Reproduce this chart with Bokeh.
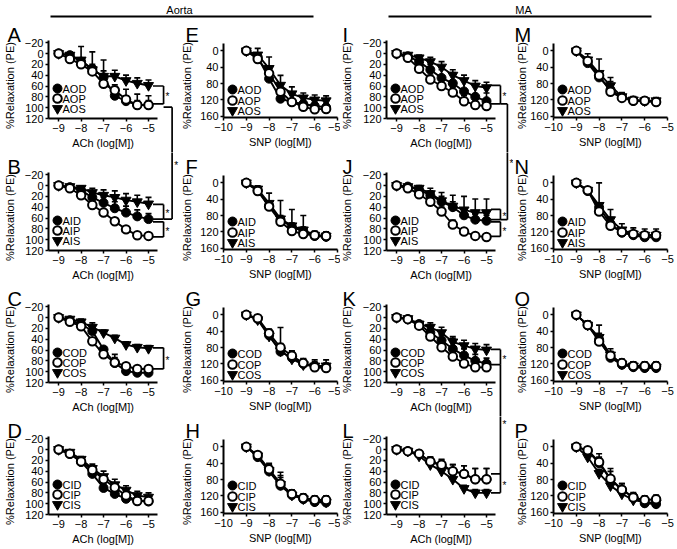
import math
from bokeh.plotting import figure
from bokeh.layouts import column, row
from bokeh.models import Range1d, FixedTicker
from bokeh.core.properties import value
from bokeh.embed import file_html
from bokeh.resources import INLINE

FONT = "Liberation Sans"

# ---------------- data ----------------
ACH_LOG_M = [-9, -8.5, -8, -7.5, -7, -6.5, -6, -5.5, -5]
SNP_LOG_M = [-9, -8.5, -8, -7.5, -7, -6.5, -6, -5.5]
ACH_X_TICKS = [-9, -8, -7, -6, -5]
SNP_X_TICKS = [-10, -9, -8, -7, -6, -5]
ACH_Y_TICKS = [-20, 0, 20, 40, 60, 80, 100, 120]
SNP_Y_TICKS = [0, 40, 80, 120, 160]
ACH_LABEL = "ACh (log[M])"
SNP_LABEL = "SNP (log[M])"
Y_LABEL = "%Relaxation (PE)"
HEADERS = ["Aorta", "MA"]

# Aorta - ACh
A_AOD = [0, 3, 15, 28, 44, 78, 88, 95, 95]
A_AOD_ERR = [0, 3, 5, 8, 12, 15, 10, 8, 8]
A_AOP = [0, 10, 20, 33, 56, 68, 85, 95, 95]
A_AOP_ERR = [0, 3, 4, 6, 8, 10, 19, 20, 17]
A_AOS = [0, 3, 12, 30, 42, 42, 50, 55, 59]
A_AOS_ERR = [0, 3, 25, 33, 30, 11, 10, 10, 10]

B_AID = [0, 3, 9, 22, 32, 42, 50, 57, 62]
B_AID_ERR = [0, 2, 4, 8, 10, 12, 12, 12, 10]
B_AIP = [0, 5, 18, 36, 50, 66, 81, 92, 93]
B_AIP_ERR = [0, 2, 3, 4, 5, 6, 5, 4, 4]
B_AIS = [0, 2, 5, 13, 18, 22, 27, 30, 34]
B_AIS_ERR = [0, 2, 4, 8, 10, 12, 12, 12, 12]

C_COD = [0, 5, 12, 25, 59, 84, 99, 102, 102]
C_COD_ERR = [0, 2, 3, 5, 5, 10, 5, 5, 5]
C_COP = [0, 8, 16, 44, 68, 83, 90, 95, 95]
C_COP_ERR = [0, 2, 3, 5, 8, 15, 5, 5, 5]
C_COS = [0, 3, 8, 18, 28, 38, 50, 55, 57]
C_COS_ERR = [0, 3, 5, 8, 5, 5, 5, 5, 5]

D_CID = [0, 8, 23, 45, 71, 82, 91, 94, 96]
D_CID_ERR = [0, 3, 5, 8, 8, 8, 8, 8, 8]
D_CIP = [0, 8, 22, 38, 55, 70, 85, 95, 95]
D_CIP_ERR = [0, 3, 5, 8, 8, 8, 8, 8, 8]
D_CIS = [0, 5, 18, 35, 50, 65, 75, 85, 88]
D_CIS_ERR = [0, 3, 5, 8, 10, 10, 8, 8, 8]

# Aorta - SNP
E_AOD = [0, 15, 68, 117, 125, 130, 135, 138]
E_AOD_ERR = [0, 5, 10, 10, 8, 8, 8, 8]
E_AOP = [0, 20, 55, 100, 125, 137, 143, 142]
E_AOP_ERR = [0, 5, 10, 10, 8, 8, 8, 8]
E_AOS = [0, 10, 43, 84, 105, 115, 120, 122]
E_AOS_ERR = [0, 16, 28, 24, 17, 12, 12, 12]

F_AID = [0, 18, 55, 90, 108, 118, 130, 132]
F_AID_ERR = [0, 5, 10, 10, 10, 10, 8, 8]
F_AIP = [0, 20, 58, 95, 118, 125, 128, 130]
F_AIP_ERR = [0, 5, 8, 8, 8, 8, 8, 8]
F_AIS = [0, 15, 50, 88, 105, 115, 128, 130]
F_AIS_ERR = [0, 8, 25, 45, 40, 35, 10, 10]

G_COD = [0, 10, 50, 90, 105, 120, 125, 128]
G_COD_ERR = [0, 5, 10, 10, 10, 10, 10, 10]
G_COP = [0, 8, 45, 80, 100, 118, 128, 130]
G_COP_ERR = [0, 5, 10, 10, 10, 10, 10, 10]
G_COS = [0, 12, 52, 88, 108, 122, 125, 125]
G_COS_ERR = [0, 10, 15, 57, 20, 15, 15, 15]

H_CID = [0, 25, 60, 95, 118, 128, 135, 136]
H_CID_ERR = [0, 10, 20, 25, 10, 10, 10, 10]
H_CIP = [0, 20, 55, 90, 115, 125, 130, 130]
H_CIP_ERR = [0, 8, 10, 15, 10, 10, 10, 10]
H_CIS = [0, 22, 58, 92, 118, 127, 133, 135]
H_CIS_ERR = [0, 10, 15, 30, 10, 10, 10, 10]

# MA - ACh
I_AOD = [0, 5, 15, 30, 45, 55, 70, 80, 88]
I_AOD_ERR = [0, 2, 5, 10, 15, 20, 20, 20, 15]
I_AOP = [0, 8, 28, 48, 60, 72, 88, 95, 97]
I_AOP_ERR = [0, 2, 5, 8, 10, 10, 10, 10, 8]
I_AOS = [0, 3, 8, 15, 25, 40, 50, 60, 63]
I_AOS_ERR = [0, 2, 5, 8, 10, 10, 10, 10, 10]

J_AID = [0, 2, 8, 18, 30, 40, 55, 63, 65]
J_AID_ERR = [0, 2, 5, 8, 10, 10, 10, 10, 10]
J_AIP = [0, 5, 16, 30, 48, 72, 85, 93, 95]
J_AIP_ERR = [0, 2, 4, 6, 8, 8, 6, 5, 5]
J_AIS = [0, 2, 5, 15, 28, 38, 45, 50, 50]
J_AIS_ERR = [0, 2, 5, 10, 15, 20, 25, 25, 25]

K_COD = [0, 3, 12, 28, 42, 58, 70, 80, 85]
K_COD_ERR = [0, 2, 4, 8, 10, 20, 12, 12, 10]
K_COP = [0, 3, 15, 35, 55, 72, 85, 92, 92]
K_COP_ERR = [0, 2, 4, 6, 8, 10, 10, 8, 6]
K_COS = [0, 2, 12, 18, 28, 45, 52, 58, 60]
K_COS_ERR = [0, 2, 5, 8, 10, 10, 10, 10, 10]

L_CID = [0, 3, 8, 22, 30, 40, 45, 55, 55]
L_CID_ERR = [0, 2, 5, 8, 10, 12, 15, 20, 20]
L_CIP = [0, 3, 8, 22, 28, 40, 45, 55, 55]
L_CIP_ERR = [0, 2, 5, 8, 10, 12, 15, 20, 20]
L_CIS = [0, 3, 12, 28, 40, 55, 72, 80, 80]
L_CIS_ERR = [0, 2, 4, 5, 6, 6, 6, 6, 6]

# MA - SNP
M_AOD = [0, 30, 65, 95, 113, 122, 123, 125]
M_AOD_ERR = [0, 10, 15, 20, 10, 8, 8, 8]
M_AOP = [0, 25, 60, 100, 115, 122, 122, 125]
M_AOP_ERR = [0, 8, 10, 15, 10, 8, 8, 8]
M_AOS = [0, 22, 55, 85, 112, 120, 122, 122]
M_AOS_ERR = [0, 15, 35, 20, 10, 8, 8, 8]

N_AID = [0, 20, 60, 100, 122, 128, 133, 133]
N_AID_ERR = [0, 8, 10, 15, 10, 10, 10, 10]
N_AIP = [0, 18, 70, 105, 120, 125, 128, 128]
N_AIP_ERR = [0, 5, 8, 10, 8, 8, 8, 8]
N_AIS = [0, 18, 55, 90, 115, 125, 128, 128]
N_AIS_ERR = [0, 8, 55, 25, 15, 15, 15, 15]

O_COD = [0, 25, 60, 105, 122, 128, 130, 130]
O_COD_ERR = [0, 10, 15, 15, 10, 10, 10, 10]
O_COP = [0, 25, 65, 100, 118, 125, 125, 125]
O_COP_ERR = [0, 8, 10, 10, 10, 10, 10, 10]
O_COS = [0, 25, 55, 98, 120, 125, 128, 128]
O_COS_ERR = [0, 10, 30, 15, 10, 10, 10, 10]

P_CID = [0, 10, 40, 80, 105, 122, 138, 140]
P_CID_ERR = [0, 5, 15, 20, 15, 10, 10, 10]
P_CIP = [0, 8, 37, 78, 105, 124, 130, 128]
P_CIP_ERR = [0, 5, 20, 25, 15, 10, 10, 10]
P_CIS = [0, 25, 65, 95, 115, 130, 135, 138]
P_CIS_ERR = [0, 5, 10, 10, 10, 10, 10, 10]

# significance brackets (pairs of %relaxation levels at the last dose)
BRACKETS = {
    "A": [(60, 93)],
    "B": [(35, 62), (67, 95)],
    "C": [(56, 95)],
    "I": [(59, 93)],
    "J": [(44, 63), (67, 94)],
    "K": [(59, 87)],
    "L": [(45, 80)],
}
# connectors between panels: (from, to, level in from, level in to, style)
CONNECTORS = [
    ("A", "B", 99, 62, "side"),
    ("I", "J", 93, 63, "side"),
    ("K", "L", 87, 45, "straight"),
]

PANELS = [
    ("A", 0, 0, "ach", ["AOD", "AOP", "AOS"], A_AOD, A_AOD_ERR, A_AOP, A_AOP_ERR, A_AOS, A_AOS_ERR),
    ("B", 0, 1, "ach", ["AID", "AIP", "AIS"], B_AID, B_AID_ERR, B_AIP, B_AIP_ERR, B_AIS, B_AIS_ERR),
    ("C", 0, 2, "ach", ["COD", "COP", "COS"], C_COD, C_COD_ERR, C_COP, C_COP_ERR, C_COS, C_COS_ERR),
    ("D", 0, 3, "ach", ["CID", "CIP", "CIS"], D_CID, D_CID_ERR, D_CIP, D_CIP_ERR, D_CIS, D_CIS_ERR),
    ("E", 1, 0, "snp", ["AOD", "AOP", "AOS"], E_AOD, E_AOD_ERR, E_AOP, E_AOP_ERR, E_AOS, E_AOS_ERR),
    ("F", 1, 1, "snp", ["AID", "AIP", "AIS"], F_AID, F_AID_ERR, F_AIP, F_AIP_ERR, F_AIS, F_AIS_ERR),
    ("G", 1, 2, "snp", ["COD", "COP", "COS"], G_COD, G_COD_ERR, G_COP, G_COP_ERR, G_COS, G_COS_ERR),
    ("H", 1, 3, "snp", ["CID", "CIP", "CIS"], H_CID, H_CID_ERR, H_CIP, H_CIP_ERR, H_CIS, H_CIS_ERR),
    ("I", 2, 0, "ach", ["AOD", "AOP", "AOS"], I_AOD, I_AOD_ERR, I_AOP, I_AOP_ERR, I_AOS, I_AOS_ERR),
    ("J", 2, 1, "ach", ["AID", "AIP", "AIS"], J_AID, J_AID_ERR, J_AIP, J_AIP_ERR, J_AIS, J_AIS_ERR),
    ("K", 2, 2, "ach", ["COD", "COP", "COS"], K_COD, K_COD_ERR, K_COP, K_COP_ERR, K_COS, K_COS_ERR),
    ("L", 2, 3, "ach", ["CID", "CIP", "CIS"], L_CID, L_CID_ERR, L_CIP, L_CIP_ERR, L_CIS, L_CIS_ERR),
    ("M", 3, 0, "snp", ["AOD", "AOP", "AOS"], M_AOD, M_AOD_ERR, M_AOP, M_AOP_ERR, M_AOS, M_AOS_ERR),
    ("N", 3, 1, "snp", ["AID", "AIP", "AIS"], N_AID, N_AID_ERR, N_AIP, N_AIP_ERR, N_AIS, N_AIS_ERR),
    ("O", 3, 2, "snp", ["COD", "COP", "COS"], O_COD, O_COD_ERR, O_COP, O_COP_ERR, O_COS, O_COS_ERR),
    ("P", 3, 3, "snp", ["CID", "CIP", "CIS"], P_CID, P_CID_ERR, P_CIP, P_CIP_ERR, P_CIS, P_CIS_ERR),
]

# ---------------- layout constants ----------------
COL_W = [180, 160, 173, 163]
COL_BL = [48, 43, 46, 40]
COL_BR = [23, 3, 18, 9]
YLAB_X = [9, 6, 6, 8]
LETTER_X = [7, 5, 2, 1]
ROW_H = 132
HEADER_H = 20
X_BRACKET = {0: -4.33, 2: -4.38}
X_ARM = -4.8
X_CONN = {0: -3.95, 2: -4.07}


class Geo:
    """Axis box inside a canvas; the plot frame covers the whole canvas."""

    def __init__(self, col, rw, kind):
        self.col = col
        self.ach = kind == "ach"
        self.W = COL_W[col]
        self.BL = COL_BL[col]
        self.BR = COL_BR[col]
        self.BT = 20 if self.ach else 23
        self.fh = 78 if self.ach else 74
        self.BB = ROW_H - self.BT - self.fh
        self.fw = self.W - self.BL - self.BR
        self.x0, self.x1 = (-9.45, -4.6) if self.ach else (-10.0, -5.0)
        self.ytop, self.ybot = (-24.0, 120.0) if self.ach else (-18.0, 163.0)
        self.ux = (self.x1 - self.x0) / self.fw
        self.uy = (self.ybot - self.ytop) / self.fh
        self.cx0 = self.x0 - self.BL * self.ux
        self.cx1 = self.x1 + self.BR * self.ux
        self.cy0 = self.ytop - self.BT * self.uy          # canvas top
        self.cy1 = self.ybot + self.BB * self.uy          # canvas bottom
        self.page_top = HEADER_H + rw * ROW_H

    def cx(self, px):
        return self.cx0 + px * self.ux

    def cy(self, py):
        return self.cy0 + py * self.uy

    def page_y(self, v):
        return self.page_top + (v - self.cy0) / self.uy


figs = {}
geos = {}


def draw_markers(p, xv, yv, style):
    if style == "filled":
        p.scatter(xv, yv, marker="circle", size=9, fill_color="black", line_color="black")
    elif style == "tri":
        p.scatter(xv, yv, marker="inverted_triangle", size=10, fill_color="black", line_color="black")
    else:
        p.scatter(xv, yv, marker="circle", size=8.5, fill_color="white", line_color="black",
                  line_width=2)


def lines(p, xs0, ys0, xs1, ys1, w=1.7):
    p.segment(x0=xs0, y0=ys0, x1=xs1, y1=ys1, line_color="black", line_width=w)


def stars(p, xs, ys):
    p.text(x=xs, y=ys, text=["*"] * len(xs), text_font=value(FONT), text_font_size="10px",
           text_align="center", text_baseline="middle", text_color="black")


for (letter, col, rw, kind, names, d, derr, pp, perr, s, serr) in PANELS:
    g = Geo(col, rw, kind)
    geos[letter] = g
    xs = ACH_LOG_M if g.ach else SNP_LOG_M
    p = figure(width=g.W, height=ROW_H,
               x_range=Range1d(g.cx0, g.cx1), y_range=Range1d(g.cy1, g.cy0),
               output_backend="svg", toolbar_location=None,
               min_border_left=0, min_border_right=0, min_border_top=0, min_border_bottom=0,
               outline_line_color=None, border_fill_color="white",
               background_fill_color="white")
    p.grid.visible = False
    xt = ACH_X_TICKS if g.ach else SNP_X_TICKS
    p.xaxis.ticker = FixedTicker(ticks=xt)
    p.xaxis.major_label_overrides = {t: "\u2212" + str(abs(t)) for t in xt}
    p.yaxis.ticker = FixedTicker(ticks=ACH_Y_TICKS if g.ach else SNP_Y_TICKS)
    p.xaxis.axis_label = ACH_LABEL if g.ach else SNP_LABEL
    p.xaxis.fixed_location = g.ybot
    p.xaxis.bounds = (g.x0, g.x1)
    p.yaxis.fixed_location = g.x0
    p.yaxis.bounds = (g.ytop, g.ybot)
    for ax in (p.xaxis[0], p.yaxis[0]):
        ax.axis_line_width = 2
        ax.axis_line_color = "black"
        ax.major_tick_line_width = 1.5
        ax.major_tick_line_color = "black"
        ax.major_tick_in = 0
        ax.major_tick_out = 3
        ax.minor_tick_in = 0
        ax.minor_tick_out = 0
        ax.major_label_text_font = FONT
        ax.major_label_text_font_size = "11px"
        ax.major_label_text_color = "black"
        ax.major_label_standoff = 2
        ax.axis_label_text_font = FONT
        ax.axis_label_text_font_size = "11px"
        ax.axis_label_text_font_style = "normal"
        ax.axis_label_text_color = "black"
        ax.axis_label_standoff = 2

    # y-axis title, drawn as rotated text so it sits like the reference
    p.text(x=[g.cx(YLAB_X[col])], y=[g.cy(65)], text=[Y_LABEL],
           angle=math.pi / 2, text_font=value(FONT), text_font_size="11px",
           text_align="center", text_baseline="middle", text_color="black")

    series = [(d, derr, "filled"), (s, serr, "tri"), (pp, perr, "open")]
    for (vals, _, _) in series:
        p.line(xs, vals, line_color="black", line_width=1.9)
    for (vals, errs, _) in series:
        ex = [x for x, e in zip(xs, errs) if e > 0]
        ey = [v for v, e in zip(vals, errs) if e > 0]
        et = [v - e for v, e in zip(vals, errs) if e > 0]
        lines(p, ex, ey, ex, et, 1.6)
        p.scatter(ex, et, marker="dash", size=6, line_color="black", line_width=1.6)
    for (vals, _, style) in series:
        draw_markers(p, xs, vals, style)

    # legend key (filled, open, triangle)
    offs = [-30, -20, -10] if g.ach else [-28, -17, -7]
    ly = [g.cy(g.BT + g.fh + o) for o in offs]
    lx = g.cx(g.BL + 9)
    draw_markers(p, [lx], [ly[0]], "filled")
    draw_markers(p, [lx], [ly[1]], "open")
    draw_markers(p, [lx], [ly[2]], "tri")
    p.text(x=[g.cx(g.BL + 14)] * 3, y=ly, text=names, text_font=value(FONT),
           text_font_size="11px", text_baseline="middle", text_align="left", text_color="black")

    # panel letter
    p.text(x=[g.cx(LETTER_X[col])], y=[g.cy(3)], text=[letter], text_font=value(FONT),
           text_font_size="20px", text_baseline="top", text_align="left", text_color="black")

    # brackets
    for (y1, y2) in BRACKETS.get(letter, []):
        xb = X_BRACKET[col]
        lines(p, [X_ARM, xb, X_ARM], [y1, y1, y2], [xb, xb, xb], [y1, y2, y2])
        stars(p, [xb + 4 * g.ux], [(y1 + y2) / 2 + 2 * g.uy])
    figs[letter] = p

# connectors between panels
for (fa, fb, ya, yb, style) in CONNECTORS:
    ga, gb = geos[fa], geos[fb]
    pa, pb = figs[fa], figs[fb]
    col = ga.col
    xb = X_BRACKET[col]
    xc = X_CONN[col] if style == "side" else xb
    if style == "side":
        lines(pa, [xb], [ya], [xc], [ya])
        lines(pb, [xc], [yb], [xb], [yb])
    lines(pa, [xc], [ya], [xc], [ga.cy1 + 2 * ga.uy])
    lines(pb, [xc], [gb.cy0 - 2 * gb.uy], [xc], [yb])
    mid = (ga.page_y(ya) + gb.page_y(yb)) / 2
    boundary = ga.page_top + ROW_H
    if mid < boundary - 5:
        stars(pa, [xc + 4 * ga.ux], [ga.cy(mid - ga.page_top + 2)])
    else:
        m = max(mid, boundary + 6)
        stars(pb, [xc + 4 * gb.ux], [gb.cy(m - gb.page_top + 2)])

# header
TOTAL_W = sum(COL_W)
hdr = figure(width=TOTAL_W, height=HEADER_H, x_range=Range1d(0, TOTAL_W), y_range=Range1d(HEADER_H, 0),
             output_backend="svg", toolbar_location=None, min_border=0,
             x_axis_type=None, y_axis_type=None, outline_line_color=None)
hdr.grid.visible = False
hdr.text(x=[179, 523], y=[9.5, 9.5], text=HEADERS, text_font=value(FONT), text_font_size="11px",
         text_align="center", text_baseline="middle", text_color="black")
hdr.segment(x0=[50, 388], y0=[16, 16], x1=[313, 651], y1=[16, 16], line_color="black", line_width=2)

columns = [column(*[figs[l] for (l, c, *_r) in PANELS if c == ci], spacing=0) for ci in range(4)]
layout = column(hdr, row(*columns, spacing=0), spacing=0)

open("out.html", "w").write(file_html(layout, INLINE))
